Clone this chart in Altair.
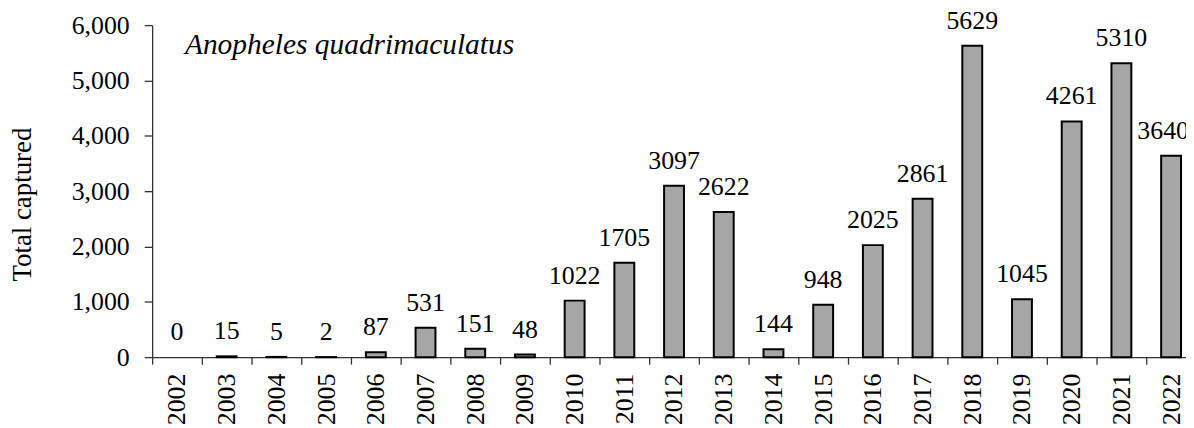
import altair as alt
import pandas as pd

years = [str(y) for y in range(2002, 2023)]
counts = [0, 15, 5, 2, 87, 531, 151, 48, 1022, 1705, 3097, 2622, 144, 948, 2025, 2861, 5629, 1045, 4261, 5310, 3640]
species = "Anopheles quadrimaculatus"

df = pd.DataFrame({"year": years, "count": counts})
FONT = "Liberation Serif, Times New Roman, serif"

x = alt.X("year:N", sort=years,
          scale=alt.Scale(range=[0, 1050], paddingInner=0, paddingOuter=0),
          axis=alt.Axis(title=None, labelAngle=-90, labelFont=FONT, labelFontSize=26,
                        labelColor="black", tickBand="extent", tickSize=7,
                        tickColor="#333333", domainColor="#333333", domainWidth=1.3,
                        tickWidth=1.3, labelPadding=9, labelBaseline="middle",
                        labelAlign="right", grid=False))
y = alt.Y("count:Q", scale=alt.Scale(domain=[0, 6000], nice=False),
          axis=alt.Axis(title="Total captured", titleFont=FONT, titleFontSize=27,
                        titleFontWeight="normal", titleColor="black", titlePadding=35,
                        titleY=180,
                        values=[0, 1000, 2000, 3000, 4000, 5000, 6000], format=",.0f",
                        labelFont=FONT, labelFontSize=26, labelColor="black",
                        tickSize=8, tickColor="#333333", domainColor="#333333",
                        domainWidth=1.3, tickWidth=1.3, labelPadding=15, grid=False))

bars = alt.Chart(df).mark_bar(width=alt.RelativeBandSize(0.4), color="#a6a6a6",
                              stroke="black").encode(
    x=x, y=y,
    strokeWidth=alt.condition(alt.datum["count"] > 0, alt.value(2), alt.value(0)),
)
base_text = alt.Chart(df).encode(
    x=alt.X("year:N", sort=years), y="count:Q", text="count:Q")
labels = base_text.transform_filter(alt.datum.year != years[-1]).mark_text(
    font=FONT, fontSize=26, color="black", baseline="alphabetic", dy=-17)
last_label = base_text.transform_filter(alt.datum.year == years[-1]).mark_text(
    font=FONT, fontSize=26, color="black", baseline="alphabetic", dy=-17, dx=-8)
title = alt.Chart(pd.DataFrame({"t": [species]})).mark_text(
    font=FONT, fontSize=29.6, fontStyle="italic", color="black",
    align="left", baseline="alphabetic").encode(
    x=alt.value(33), y=alt.value(29), text="t:N")

chart = alt.layer(bars, labels, last_label, title).properties(
    width=1040, height=334,
    autosize=alt.AutoSizeParams(type="none"),
    padding={"left": 145, "top": 16, "right": 0, "bottom": 72},
).configure_view(stroke=None)

chart.save("out.html", embed_options={"renderer": "svg", "actions": False})
